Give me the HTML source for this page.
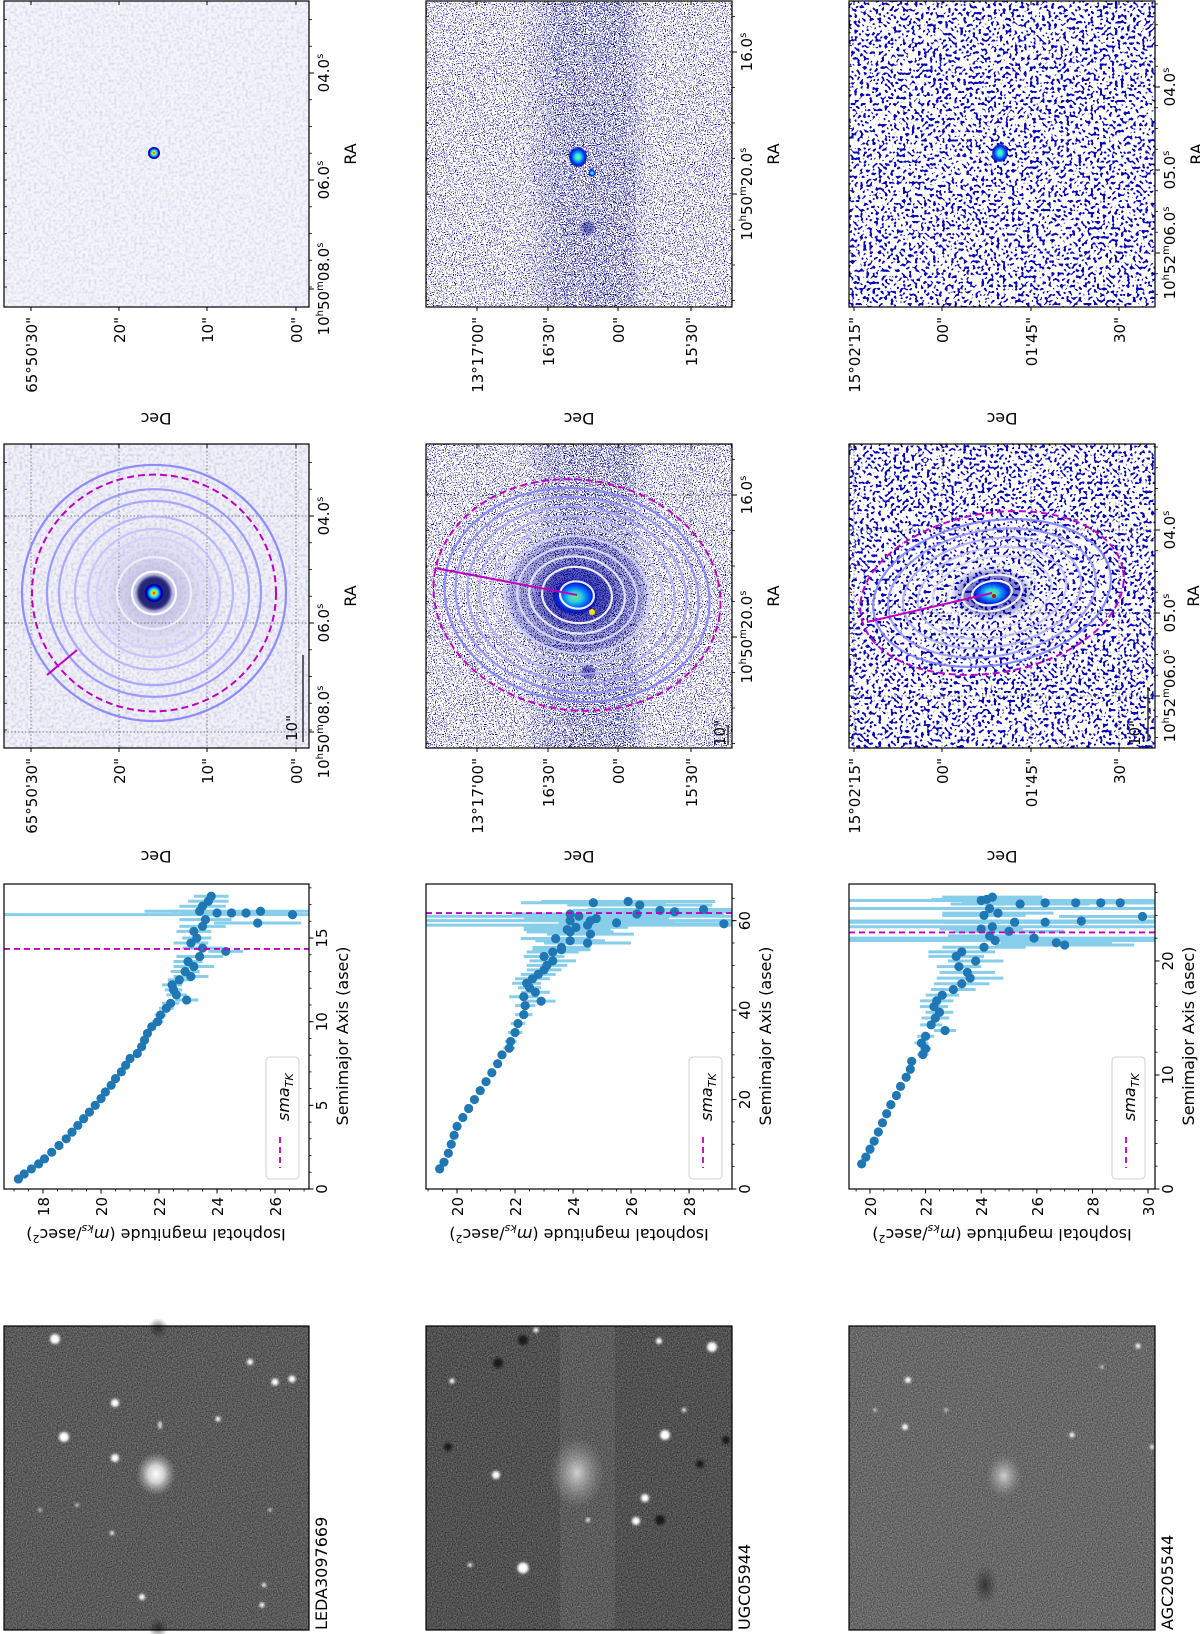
<!DOCTYPE html>
<html><head><meta charset="utf-8"><title>Isophote fitting figure</title>
<style>
html,body{margin:0;padding:0;background:#fff;}
svg{display:block;font-family:"DejaVu Sans","Liberation Sans",sans-serif;}
.tk{font-size:15px;fill:#000;}
.lb{font-size:16px;fill:#000;}
</style></head>
<body>
<svg id="fig" width="1200" height="1634" viewBox="0 0 1200 1634">
<defs>
 <filter id="fLav" x="0" y="0" width="1" height="1" color-interpolation-filters="sRGB">
  <feTurbulence type="fractalNoise" baseFrequency="0.35" numOctaves="1" seed="4"/>
  <feColorMatrix type="matrix" values="0 0 0 0 0.55  0 0 0 0 0.55  0 0 0 0 0.8  -2 0 0 0 1.15"/>
 </filter>
 <filter id="fFine" x="0" y="0" width="1" height="1" color-interpolation-filters="sRGB">
  <feTurbulence type="fractalNoise" baseFrequency="0.9" numOctaves="1" seed="2"/>
  <feColorMatrix type="matrix" values="0 0 0 0 0.02  0 0 0 0 0.02  0 0 0 0 0.55  -25 0 0 0 10.4"/>
 </filter>
 <filter id="fFineD" x="0" y="0" width="1" height="1" color-interpolation-filters="sRGB">
  <feTurbulence type="fractalNoise" baseFrequency="0.9" numOctaves="1" seed="7"/>
  <feColorMatrix type="matrix" values="0 0 0 0 0.02  0 0 0 0 0.02  0 0 0 0 0.5  -25 0 0 0 10.5"/>
 </filter>
 <filter id="fCoarse" x="0" y="0" width="1" height="1" color-interpolation-filters="sRGB">
  <feTurbulence type="fractalNoise" baseFrequency="0.33" numOctaves="1" seed="5"/>
  <feColorMatrix type="matrix" values="0 0 0 0 0.03  0 0 0 0 0.03  0 0 0 0 0.72  -25 0 0 0 11.0"/>
 </filter>
 <filter id="fGray" x="0" y="0" width="1" height="1" color-interpolation-filters="sRGB">
  <feTurbulence type="fractalNoise" baseFrequency="0.8" numOctaves="1" seed="9"/>
  <feColorMatrix type="matrix" values="1 0 0 0 -0.1  1 0 0 0 -0.1  1 0 0 0 -0.1  0 0 0 0 0.5"/>
 </filter>
 <filter id="fBlur" x="-1" y="-1" width="3" height="3"><feGaussianBlur stdDeviation="1.3"/></filter>
 <filter id="fBlur3" x="-1" y="-1" width="3" height="3"><feGaussianBlur stdDeviation="4"/></filter>
 <linearGradient id="gBand" x1="0" x2="1" y1="0" y2="0"><stop offset="0" stop-color="#fff" stop-opacity="0"/><stop offset="0.3" stop-color="#fff" stop-opacity="1"/><stop offset="0.8" stop-color="#fff" stop-opacity="1"/><stop offset="1" stop-color="#fff" stop-opacity="0"/></linearGradient>
 <mask id="mBand1" maskUnits="userSpaceOnUse"><rect x="520" y="0" width="130" height="310" fill="url(#gBand)"/></mask>
 <mask id="mBand2" maskUnits="userSpaceOnUse"><rect x="520" y="440" width="130" height="310" fill="url(#gBand)"/></mask>
 <radialGradient id="gGal"><stop offset="0" stop-color="#fff" stop-opacity="1"/><stop offset="0.4" stop-color="#eee" stop-opacity="0.8"/><stop offset="1" stop-color="#aaa" stop-opacity="0"/></radialGradient>
 <radialGradient id="gGalF"><stop offset="0" stop-color="#ddd" stop-opacity="0.9"/><stop offset="1" stop-color="#999" stop-opacity="0"/></radialGradient>
 <radialGradient id="gDark"><stop offset="0" stop-color="#111" stop-opacity="0.6"/><stop offset="1" stop-color="#222" stop-opacity="0"/></radialGradient>
 <radialGradient id="gLavC"><stop offset="0" stop-color="#9a9ad0" stop-opacity="0.8"/><stop offset="1" stop-color="#c8c8e8" stop-opacity="0"/></radialGradient>
 <radialGradient id="gJet"><stop offset="0" stop-color="#e00000"/><stop offset="0.2" stop-color="#ffd000"/><stop offset="0.4" stop-color="#40ffb0"/><stop offset="0.6" stop-color="#0090ff"/><stop offset="0.8" stop-color="#0000e0"/><stop offset="1" stop-color="#000080"/></radialGradient>
 <radialGradient id="gJet2"><stop offset="0" stop-color="#70ff80"/><stop offset="0.3" stop-color="#30e0e0"/><stop offset="0.55" stop-color="#0080ff"/><stop offset="0.8" stop-color="#0020e0"/><stop offset="1" stop-color="#000090" stop-opacity="0.6"/></radialGradient>
 <radialGradient id="gBlueHalo"><stop offset="0" stop-color="#0010c0" stop-opacity="0.75"/><stop offset="0.7" stop-color="#000090" stop-opacity="0.45"/><stop offset="1" stop-color="#000090" stop-opacity="0"/></radialGradient>
 <clipPath id="cP1"><rect x="4" y="884" width="305" height="305"/></clipPath>
 <clipPath id="cP2"><rect x="426" y="884" width="306" height="305"/></clipPath>
 <clipPath id="cP3"><rect x="849" y="884" width="306" height="305"/></clipPath>
 <clipPath id="cI1"><rect x="4" y="444" width="305" height="304"/></clipPath>
 <clipPath id="cI2"><rect x="426" y="444" width="306" height="304"/></clipPath>
 <clipPath id="cI3"><rect x="849" y="444" width="306" height="304"/></clipPath>
</defs>

<!-- ================= MODEL PANELS (top) ================= -->
<g>
 <rect x="4" y="1" width="305" height="306" fill="#f4f4fa"/>
 <rect x="4" y="1" width="305" height="306" fill="#000" filter="url(#fLav)" opacity="0.35"/>
 <circle cx="154" cy="153" r="6" fill="url(#gJet)"/>
 <rect x="4" y="1" width="305" height="306" fill="none" stroke="#000" stroke-width="1.2"/>
</g>
<g>
 <rect x="426" y="1" width="306" height="306" fill="#fff"/>
 <rect x="426" y="1" width="306" height="306" fill="#000" filter="url(#fFine)"/>
 <g mask="url(#mBand1)"><rect x="520" y="1" width="130" height="306" fill="#000" filter="url(#fFineD)"/></g>
 <rect x="590" y="150" width="45" height="157" fill="#000" filter="url(#fFineD)" opacity="0.6"/>
 <ellipse cx="578" cy="157" rx="9" ry="10" fill="url(#gJet2)"/>
 <circle cx="592" cy="173" r="3.5" fill="url(#gJet2)"/>
 <circle cx="588" cy="228" r="7" fill="#000080" opacity="0.45" filter="url(#fBlur)"/>
 <rect x="426" y="1" width="306" height="306" fill="none" stroke="#000" stroke-width="1.2"/>
</g>
<g>
 <rect x="849" y="1" width="306" height="306" fill="#fff"/>
 <rect x="849" y="1" width="306" height="306" fill="#000" filter="url(#fCoarse)"/>
 <ellipse cx="1000" cy="153" rx="8" ry="9" fill="url(#gJet2)"/>
 <rect x="849" y="1" width="306" height="306" fill="none" stroke="#000" stroke-width="1.2"/>
</g>

<!-- ================= ISOPHOTE PANELS ================= -->
<g>
 <rect x="4" y="444" width="305" height="304" fill="#f1f1f8"/>
 <g clip-path="url(#cI1)">
  <rect x="4" y="444" width="305" height="304" fill="#000" filter="url(#fLav)" opacity="0.45"/>
  <circle cx="154" cy="593" r="75" fill="url(#gLavC)"/>
  <g id="iso1-grid"></g>
  <circle cx="154" cy="593" r="17" fill="#000060" opacity="0.8" filter="url(#fBlur)"/>
  <circle cx="154" cy="593" r="9" fill="url(#gJet)"/>
  <g id="iso1"></g>
 </g>
 <line x1="303" y1="655" x2="303" y2="742" stroke="#333" stroke-width="1.5"/>
 <text class="tk" transform="translate(297,741) rotate(-90)">10"</text>
 <rect x="4" y="444" width="305" height="304" fill="none" stroke="#000" stroke-width="1.2"/>
</g>
<g>
 <rect x="426" y="444" width="306" height="304" fill="#fff"/>
 <g clip-path="url(#cI2)">
  <rect x="426" y="444" width="306" height="304" fill="#000" filter="url(#fFine)"/>
  <g mask="url(#mBand2)"><rect x="520" y="444" width="130" height="304" fill="#000" filter="url(#fFineD)"/></g>
  <rect x="590" y="590" width="45" height="158" fill="#000" filter="url(#fFineD)" opacity="0.6"/>
  <g id="iso2-grid"></g>
  <ellipse cx="577" cy="595" rx="70" ry="58" fill="#000090" opacity="0.3" filter="url(#fBlur3)"/>
  <ellipse cx="577" cy="595" rx="46" ry="38" fill="url(#gBlueHalo)"/>
  <ellipse cx="575" cy="597" rx="22" ry="17" fill="url(#gJet2)" opacity="0.9"/>
  <circle cx="592" cy="612" r="3" fill="#ffe000"/>
  <circle cx="588" cy="672" r="7" fill="#000080" opacity="0.5" filter="url(#fBlur)"/>
  <g id="iso2"></g>
 </g>
 <line x1="728" y1="725" x2="728" y2="745" stroke="#333" stroke-width="1.5"/>
 <text class="tk" transform="translate(725,746) rotate(-90)">10"</text>
 <rect x="426" y="444" width="306" height="304" fill="none" stroke="#000" stroke-width="1.2"/>
</g>
<g>
 <rect x="849" y="444" width="306" height="304" fill="#fff"/>
 <g clip-path="url(#cI3)">
  <rect x="849" y="444" width="306" height="304" fill="#000" filter="url(#fCoarse)"/>
  <g id="iso3-grid"></g>
  <ellipse cx="992" cy="593" rx="42" ry="27" fill="url(#gBlueHalo)"/>
  <ellipse cx="992" cy="593" rx="20" ry="13" fill="url(#gJet2)" opacity="0.9"/>
  <circle cx="994" cy="596" r="2" fill="#e00000"/>
  <g id="iso3"></g>
 </g>
 <line x1="1148" y1="687" x2="1148" y2="740" stroke="#333" stroke-width="1.5"/>
 <text class="tk" transform="translate(1140,746) rotate(-90)">10"</text>
 <rect x="849" y="444" width="306" height="304" fill="none" stroke="#000" stroke-width="1.2"/>
</g>

<!-- ================= GRAYSCALE IMAGES ================= -->
<g>
 <rect x="4" y="1326" width="305" height="304" fill="#4e4e4e"/>
 <rect x="4" y="1326" width="305" height="304" fill="#000" filter="url(#fGray)"/>
 <circle cx="158" cy="1328" r="10" fill="url(#gDark)"/><circle cx="158" cy="1628" r="10" fill="url(#gDark)"/>
 <ellipse cx="156" cy="1474" rx="20" ry="22" fill="url(#gGal)"/>
 <g fill="#fff" filter="url(#fBlur)">
  <circle cx="55" cy="1339" r="5"/><circle cx="115" cy="1403" r="4"/><circle cx="64" cy="1437" r="5"/><circle cx="115" cy="1458" r="4"/>
  <circle cx="250" cy="1362" r="3"/><circle cx="275" cy="1382" r="3.5"/><circle cx="292" cy="1379" r="3.5"/><circle cx="218" cy="1419" r="2.5"/>
  <ellipse cx="160" cy="1425" rx="1.5" ry="4"/><circle cx="142" cy="1597" r="3"/><circle cx="262" cy="1605" r="2.5"/><circle cx="264" cy="1585" r="2"/>
  <circle cx="112" cy="1533" r="2"/><circle cx="40" cy="1510" r="1.5"/><circle cx="77" cy="1505" r="1.5"/><circle cx="270" cy="1510" r="1.5"/>
 </g>
 <rect x="4" y="1326" width="305" height="304" fill="none" stroke="#000" stroke-width="1.2"/>
</g>
<g>
 <rect x="426" y="1326" width="306" height="304" fill="#3c3c3c"/>
 <rect x="560" y="1326" width="55" height="304" fill="#525252"/>
 <rect x="426" y="1326" width="306" height="304" fill="#000" filter="url(#fGray)"/>
 <ellipse cx="577" cy="1473" rx="28" ry="36" fill="url(#gGalF)"/>
 <g fill="#111" opacity="0.8" filter="url(#fBlur)">
  <circle cx="523" cy="1340" r="5"/><circle cx="498" cy="1363" r="5"/><circle cx="448" cy="1447" r="4"/><circle cx="660" cy="1520" r="5"/><circle cx="700" cy="1464" r="4"/><circle cx="726" cy="1440" r="4"/>
 </g>
 <g fill="#fff" filter="url(#fBlur)">
  <circle cx="712" cy="1347" r="5"/><circle cx="665" cy="1435" r="5"/><circle cx="496" cy="1475" r="4"/><circle cx="645" cy="1498" r="4"/>
  <circle cx="636" cy="1521" r="4"/><circle cx="523" cy="1568" r="5.5"/><circle cx="452" cy="1381" r="2.5"/><circle cx="659" cy="1341" r="3"/>
  <circle cx="536" cy="1330" r="2.5"/><circle cx="684" cy="1410" r="2"/><circle cx="470" cy="1565" r="2"/><circle cx="588" cy="1520" r="2"/>
 </g>
 <rect x="426" y="1326" width="306" height="304" fill="none" stroke="#000" stroke-width="1.2"/>
</g>
<g>
 <rect x="849" y="1326" width="306" height="304" fill="#6a6a6a"/>
 <rect x="849" y="1326" width="306" height="304" fill="#000" filter="url(#fGray)"/>
 <ellipse cx="1004" cy="1476" rx="18" ry="22" fill="url(#gGalF)"/>
 <ellipse cx="985" cy="1585" rx="12" ry="20" fill="url(#gDark)"/>
 <g fill="#fff" filter="url(#fBlur)">
  <circle cx="908" cy="1380" r="3"/><circle cx="905" cy="1427" r="3"/><circle cx="1072" cy="1435" r="2.5"/><circle cx="1138" cy="1346" r="2.5"/>
  <circle cx="1152" cy="1447" r="2"/><circle cx="1102" cy="1367" r="1.5"/><circle cx="946" cy="1410" r="1.5"/><circle cx="875" cy="1410" r="1.5"/>
 </g>
 <rect x="849" y="1326" width="306" height="304" fill="none" stroke="#000" stroke-width="1.2"/>
</g>

<!-- ================= PROFILE PLOTS ================= -->
<g id="prof1"></g>
<g id="prof2"></g>
<g id="prof3"></g>

<!-- ================= STATIC LABELS ================= -->
<g class="lb">
 <text class="lb" transform="translate(327,1630) rotate(-90)">LEDA3097669</text>
 <text class="lb" transform="translate(750,1630) rotate(-90)">UGC05944</text>
 <text class="lb" transform="translate(1173,1630) rotate(-90)">AGC205544</text>
 <text class="lb" text-anchor="middle" transform="translate(348,1036) rotate(-90)">Semimajor Axis (asec)</text>
 <text class="lb" text-anchor="middle" transform="translate(771,1036) rotate(-90)">Semimajor Axis (asec)</text>
 <text class="lb" text-anchor="middle" transform="translate(1194,1036) rotate(-90)">Semimajor Axis (asec)</text>
 <text class="lb" text-anchor="middle" transform="translate(156,1229) rotate(180)">Isophotal magnitude (<tspan font-style="italic">m</tspan><tspan font-size="11" font-style="italic" dy="4">ks</tspan><tspan dy="-4">/asec</tspan><tspan font-size="11" dy="-6">2</tspan><tspan dy="6">)</tspan></text>
 <text class="lb" text-anchor="middle" transform="translate(579,1229) rotate(180)">Isophotal magnitude (<tspan font-style="italic">m</tspan><tspan font-size="11" font-style="italic" dy="4">ks</tspan><tspan dy="-4">/asec</tspan><tspan font-size="11" dy="-6">2</tspan><tspan dy="6">)</tspan></text>
 <text class="lb" text-anchor="middle" transform="translate(1002,1229) rotate(180)">Isophotal magnitude (<tspan font-style="italic">m</tspan><tspan font-size="11" font-style="italic" dy="4">ks</tspan><tspan dy="-4">/asec</tspan><tspan font-size="11" dy="-6">2</tspan><tspan dy="6">)</tspan></text>
 <text class="lb" text-anchor="middle" transform="translate(156,413) rotate(180)">Dec</text>
 <text class="lb" text-anchor="middle" transform="translate(579,413) rotate(180)">Dec</text>
 <text class="lb" text-anchor="middle" transform="translate(1002,413) rotate(180)">Dec</text>
 <text class="lb" text-anchor="middle" transform="translate(156,851) rotate(180)">Dec</text>
 <text class="lb" text-anchor="middle" transform="translate(579,851) rotate(180)">Dec</text>
 <text class="lb" text-anchor="middle" transform="translate(1002,851) rotate(180)">Dec</text>
 <text class="lb" text-anchor="middle" transform="translate(356,154) rotate(-90)">RA</text>
 <text class="lb" text-anchor="middle" transform="translate(779,154) rotate(-90)">RA</text>
 <text class="lb" text-anchor="middle" transform="translate(1202,154) rotate(-90)">RA</text>
 <text class="lb" text-anchor="middle" transform="translate(356,596) rotate(-90)">RA</text>
 <text class="lb" text-anchor="middle" transform="translate(779,596) rotate(-90)">RA</text>
 <text class="lb" text-anchor="middle" transform="translate(1199,596) rotate(-90)">RA</text>
</g>

<g id="wcs-axes"></g>

<script>
// ---------------- profile data (semimajor axis [asec], magnitude, error) ----------------
const sma1 = [0.6,0.9,1.2,1.5,1.8,2.2,2.6,3.0,3.4,3.8,4.2,4.6,5.0,5.4,5.8,6.2,6.6,7.0,7.4,7.8,8.1,8.5,8.9,9.3,9.7,10.0,10.4,10.8,11.1,11.3,11.6,11.9,12.2,12.5,12.7,13.0,13.3,13.6,13.9,14.2,14.4,14.7,15.0,15.4,15.7,15.9,16.1,16.4,16.5,16.5,16.5,16.6,16.6,16.9,17.2,17.5];
const mag1 = [17.15,17.35,17.6,17.85,18.05,18.3,18.55,18.8,19.0,19.2,19.4,19.6,19.8,20.0,20.15,20.35,20.5,20.7,20.85,21.0,21.25,21.4,21.5,21.6,21.75,21.95,22.05,22.25,22.4,22.95,22.6,22.5,22.45,22.7,23.1,22.9,23.2,23.0,23.4,24.3,23.5,23.1,23.3,23.2,23.5,25.4,23.6,26.6,24.0,24.5,25.0,23.4,25.5,23.5,23.7,23.8];
const err1 = [0.03,0.03,0.03,0.03,0.03,0.04,0.04,0.04,0.04,0.04,0.05,0.05,0.05,0.05,0.06,0.06,0.07,0.07,0.08,0.08,0.1,0.1,0.12,0.12,0.15,0.2,0.2,0.25,0.3,0.4,0.35,0.3,0.35,0.4,0.6,0.5,0.7,0.5,0.8,0.6,0.7,0.6,0.5,0.6,0.8,1.5,0.9,12,1.2,1.0,1.5,1.0,4,0.8,0.7,0.6];
const smaTK1 = 14.35;

const sma2 = [4.5,6,8,10,12,14,16,18,20,22,24,26,28,30,31.5,33,35,37,39,41,42,44,45,47,49,50,51,52,53,54,55,56,57,58,58.5,59,59.5,60,60.5,61,61.5,62,62.5,59.3,61.5,64,64.3,63.5,62.3,60,57.5,55.5,53.5,48,46,43];
const mag2 = [19.4,19.55,19.7,19.8,19.9,20.0,20.2,20.4,20.6,20.8,21.0,21.2,21.4,21.55,21.8,21.85,22.0,22.1,22.3,22.35,22.9,22.7,22.5,22.6,23.0,23.1,23.3,23.0,23.3,23.6,24.5,23.4,24.6,23.8,24.1,24.5,25.5,23.9,24.8,24.2,26.2,27.5,28.5,29.2,23.9,24.7,25.9,26.3,27.0,24.6,23.9,23.9,23.6,22.8,22.4,22.3];
const err2 = [0.04,0.04,0.04,0.05,0.05,0.05,0.06,0.06,0.07,0.08,0.1,0.1,0.12,0.15,0.2,0.2,0.25,0.25,0.3,0.35,0.5,0.5,0.4,0.6,0.6,0.7,0.8,0.7,0.9,1.0,1.5,1.2,1.5,1.5,1.8,8,2,12,2.5,10,3,3,4,3,2,2.5,3,2.5,3,2,1.5,1.2,1.0,0.6,0.5,0.5];
const smaTK2 = 61.7;

const sma3 = [2.2,2.8,3.5,4.2,5,5.8,6.6,7.4,8.2,9,9.8,10.5,11.2,11.8,12.3,12.8,13.4,13.9,14.4,15,15.5,16,16.5,17,17.5,18,18.5,19,19.5,20,20.4,20.8,21.2,21.6,21.8,22.2,22.6,23,23.4,23.5,23.9,24.2,24.6,25.0,25.1,25.1,25.1,25.4,25.6,25.1,23.4,22.0,21.4,22.8,24.0,25.3];
const mag3 = [19.7,19.85,20.0,20.15,20.3,20.45,20.6,20.75,20.95,21.1,21.3,21.45,21.5,21.9,22.0,21.85,22.0,22.7,22.2,22.35,22.5,22.3,22.4,22.6,23.0,23.3,23.6,23.5,23.2,23.8,23.1,23.3,24.1,26.7,24.5,24.3,25.0,24.4,25.2,27.6,29.8,24.6,24.3,25.4,27.4,28.3,29.0,24.2,24.4,26.3,26.3,25.9,27.0,24.0,24.1,24.0];
const err3 = [0.05,0.05,0.05,0.06,0.06,0.07,0.07,0.08,0.1,0.1,0.12,0.15,0.15,0.2,0.2,0.25,0.3,0.4,0.4,0.5,0.5,0.5,0.6,0.6,0.8,1.0,1.2,1.0,0.8,1.0,1.0,1.2,1.5,2,10,1.5,2,12,2.5,10,3,2,12,2.5,3,2,2,2,1.8,3,10,12,2.5,1.5,1.5,10];
const smaTK3 = 22.5;

const magTicks1 = [18,20,22,24,26];
const magTicks2 = [20,22,24,26,28];
const magTicks3 = [20,22,24,26,28,30];
const smaTicks1 = [0,5,10,15];
const smaTicks2 = [0,20,40,60];
const smaTicks3 = [0,10,20];

const isoR1 = [22,37,47,57,66,79,95,107,132];
const isoR2 = [17,35,48,60,73,86,98,110,122,133];
const isoR3 = [20,30,45,60,75,90,105,120];

const decLabels1 = ['65°50\'30"','20"','10"','00"'];
const decLabels2 = ['13°17\'00"','16\'30"','00"','15\'30"'];
const decLabels3 = ['15°02\'15"','00"','01\'45"','30"'];
const raLabels1 = [['04.0','s'],['06.0','s'],['10','h','50','m','08.0','s']];
const raLabels2 = [['16.0','s'],['10','h','50','m','20.0','s']];
const raLabels3 = [['04.0','s'],['05.0','s'],['10','h','52','m','06.0','s']];

const NS = 'http://www.w3.org/2000/svg';
function mk(tag, parent){ const e = document.createElementNS(NS, tag); parent.appendChild(e); return e; }
function set(e, o){ for (const k in o) e.setAttribute(k, o[k]); return e; }

function drawProfile(gid, clip, cfg, sma, mag, err, smaTK, magTicks, magMinor, smaTicks, smaMinor){
  const g = document.getElementById(gid);
  const X = m => cfg.x0 + (m - cfg.mLo) / (cfg.mHi - cfg.mLo) * (cfg.x1 - cfg.x0);
  const Y = s => cfg.y1 - s / cfg.sMax * (cfg.y1 - cfg.y0);
  const bg = mk('rect', g);
  set(bg, {x:cfg.x0, y:cfg.y0, width:cfg.x1-cfg.x0, height:cfg.y1-cfg.y0, fill:'#fff'});
  const dg = mk('g', g);
  set(dg, {'clip-path':'url(#'+clip+')'});
  
  
  for (let i = 0; i < sma.length; i++){
    const l = mk('line', dg);
    set(l, {x1:X(mag[i]-err[i]), x2:X(mag[i]+err[i]), y1:Y(sma[i]), y2:Y(sma[i]), stroke:'#87ceeb', 'stroke-width':3});
    
    
  }
  for (let i = 0; i < sma.length; i++){
    const c = mk('circle', dg);
    set(c, {cx:X(mag[i]), cy:Y(sma[i]), r:4.6, fill:'#1f77b4'});
    
    
  }
  const tk = mk('line', dg);
  set(tk, {x1:cfg.x0, x2:cfg.x1, y1:Y(smaTK), y2:Y(smaTK), stroke:'#c000c0', 'stroke-width':1.8, 'stroke-dasharray':'6 4'});
  
  
  const fr = mk('rect', g);
  set(fr, {x:cfg.x0, y:cfg.y0, width:cfg.x1-cfg.x0, height:cfg.y1-cfg.y0, fill:'none', stroke:'#000', 'stroke-width':1.2});
  
  
  for (let m = Math.ceil(cfg.mLo / magMinor) * magMinor; m <= cfg.mHi; m += magMinor){
    const t = mk('line', g);
    set(t, {x1:X(m), x2:X(m), y1:cfg.y1, y2:cfg.y1+2.5, stroke:'#000', 'stroke-width':0.8});
    
    
  }
  magTicks.forEach(m => {
    const t = mk('line', g);
    set(t, {x1:X(m), x2:X(m), y1:cfg.y1, y2:cfg.y1+4.5, stroke:'#000', 'stroke-width':1});
    
    
    const tx = mk('text', g);
    set(tx, {'class':'tk', 'text-anchor':'end', transform:'translate('+(X(m)+6)+','+(cfg.y1+8)+') rotate(-90)'});
    tx.textContent = String(m);
    
    
  });
  for (let s = 0; s <= cfg.sMax; s += smaMinor){
    const t = mk('line', g);
    set(t, {x1:cfg.x1, x2:cfg.x1+2.5, y1:Y(s), y2:Y(s), stroke:'#000', 'stroke-width':0.8});
    
    
  }
  smaTicks.forEach(s => {
    const t = mk('line', g);
    set(t, {x1:cfg.x1, x2:cfg.x1+4.5, y1:Y(s), y2:Y(s), stroke:'#000', 'stroke-width':1});
    
    
    const tx = mk('text', g);
    set(tx, {'class':'tk', 'text-anchor':'middle', transform:'translate('+(cfg.x1+18)+','+Y(s)+') rotate(-90)'});
    tx.textContent = String(s);
    
    
  });
  const lg = mk('g', g);
  
  
  const lb = mk('rect', lg);
  set(lb, {x:cfg.x1-43, y:cfg.y1-132, width:33, height:122, rx:4, fill:'#fff', 'fill-opacity':0.85, stroke:'#d0d0d0'});
  const ll = mk('line', lg);
  set(ll, {x1:cfg.x1-29, x2:cfg.x1-29, y1:cfg.y1-52, y2:cfg.y1-21, stroke:'#c000c0', 'stroke-width':1.8, 'stroke-dasharray':'6 4'});
  
  
  const lt = mk('text', lg);
  set(lt, {'font-size':'16', 'font-style':'italic', transform:'translate('+(cfg.x1-20)+','+(cfg.y1-68)+') rotate(-90)'});
  
  
  lt.textContent = 'sma';
  const sub = mk('tspan', lt);
  set(sub, {'font-size':'11', dy:'4'});
  sub.textContent = 'TK';
}

drawProfile('prof1', 'cP1', {x0:4, x1:309, y0:884, y1:1189, sMax:18.23, mLo:16.655, mHi:27.17}, sma1, mag1, err1, smaTK1, magTicks1, 0.5, smaTicks1, 1);
drawProfile('prof2', 'cP2', {x0:426, x1:732, y0:884, y1:1189, sMax:68.2, mLo:18.93, mHi:29.48}, sma2, mag2, err2, smaTK2, magTicks2, 0.5, smaTicks2, 5);
drawProfile('prof3', 'cP3', {x0:849, x1:1155, y0:884, y1:1189, sMax:26.75, mLo:19.245, mHi:30.25}, sma3, mag3, err3, smaTK3, magTicks3, 0.5, smaTicks3, 2);

function drawIso(gid, cx, cy, radii, ratio, rot, dashR, dashRatio, nWhite, magLine){
  const g = document.getElementById(gid);
  const n = radii.length;
  radii.forEach((r, i) => {
    const t = i < nWhite ? 0 : (i - nWhite + 1) / (n - nWhite);
    const cr = Math.round(255 - t * 125), cb = 255;
    const e = mk('ellipse', g);
    set(e, {cx:cx, cy:cy, rx:r, ry:r*ratio, transform:'rotate('+rot+' '+cx+' '+cy+')', fill:'none', stroke:'rgb('+cr+','+cr+','+cb+')', 'stroke-width':2.2, 'stroke-opacity':0.9});
    
    
  });
  const d = mk('ellipse', g);
  set(d, {cx:cx, cy:cy, rx:dashR, ry:dashR*dashRatio, transform:'rotate('+rot+' '+cx+' '+cy+')', fill:'none', stroke:'#c000c0', 'stroke-width':2, 'stroke-dasharray':'7 4'});
  
  
  const l = mk('line', g);
  set(l, {x1:magLine[0], y1:magLine[1], x2:magLine[2], y2:magLine[3], stroke:'#c000c0', 'stroke-width':2});
  
  
}
drawIso('iso1', 154, 593, isoR1, 0.97, 0, 122, 0.97, 1, [47,675,77,650]);
drawIso('iso2', 577, 595, isoR2, 0.8, 8, 144, 0.8, 2, [577,595,435,568]);
drawIso('iso3', 992, 593, isoR3, 0.6, -10, 133, 0.6, 2, [992,593,867,622]);

function raText(parent, parts, x, y){
  const t = mk('text', parent);
  set(t, {'class':'tk', 'text-anchor':'middle', transform:'translate('+x+','+y+') rotate(-90)'});
  
  
  parts.forEach((p, i) => {
    const s = mk('tspan', t);
    if (i % 2 === 1){ set(s, {'font-size':'10', dy:'-6'}); }
    else if (i > 0){ set(s, {dy:'6'}); }
    s.textContent = p;
  });
}
function wcsPanel(x0, x1, y0, y1, decX, decLbl, raY, raLbl, gridId){
  const ax = document.getElementById('wcs-axes');
  const grid = gridId ? document.getElementById(gridId) : null;
  decX.forEach((x, i) => {
    const t = mk('line', ax);
    set(t, {x1:x, x2:x, y1:y1, y2:y1+4, stroke:'#000', 'stroke-width':1});
    
    
    const t2 = mk('line', ax);
    set(t2, {x1:x, x2:x, y1:y0, y2:y0+4, stroke:'#000', 'stroke-width':1});
    
    
    const tx = mk('text', ax);
    set(tx, {'class':'tk', 'text-anchor':'end', transform:'translate('+(x+6)+','+(y1+10)+') rotate(-90)'});
    tx.textContent = decLbl[i];
    
    
    if (grid){
      const gl = mk('line', grid);
      set(gl, {x1:x, x2:x, y1:y0, y2:y1, stroke:'#777', 'stroke-width':0.9, 'stroke-dasharray':'1.5 2'});
      
      
    }
  });
  const step = raY.length > 1 ? (raY[1] - raY[0]) : 100;
  for (let y = raY[0] - Math.floor((raY[0]-y0) / (step/4)) * (step/4); y < y1; y += step/4){
    const m1 = mk('line', ax);
    set(m1, {x1:x1, x2:x1+3, y1:y, y2:y, stroke:'#000', 'stroke-width':0.8});
    
    
    const m2 = mk('line', ax);
    set(m2, {x1:x0, x2:x0+3, y1:y, y2:y, stroke:'#000', 'stroke-width':0.8});
    
    
  }
  raY.forEach((y, i) => {
    const t = mk('line', ax);
    set(t, {x1:x1, x2:x1+5, y1:y, y2:y, stroke:'#000', 'stroke-width':1});
    
    
    raText(ax, raLbl[i], x1+20, y);
    if (grid){
      const gl = mk('line', grid);
      set(gl, {x1:x0, x2:x1, y1:y, y2:y, stroke:'#777', 'stroke-width':0.9, 'stroke-dasharray':'1.5 2'});
      
      
    }
  });
}
const dec1 = [31,119,207,296], dec2 = [477,548,618,691], dec3 = [854,942,1031,1119];
const ra1 = [72,179,288], ra2 = [51,193], ra3 = [86,169,252];
wcsPanel(4, 309, 1, 307, dec1, decLabels1, ra1.map(v => v + 1), raLabels1, null);
wcsPanel(426, 732, 1, 307, dec2, decLabels2, ra2.map(v => v + 1), raLabels2, null);
wcsPanel(849, 1155, 1, 307, dec3, decLabels3, ra3.map(v => v + 1), raLabels3, null);
wcsPanel(4, 309, 444, 748, dec1, decLabels1, ra1.map(v => v + 444), raLabels1, 'iso1-grid');
wcsPanel(426, 732, 444, 748, dec2, decLabels2, ra2.map(v => v + 444), raLabels2, 'iso2-grid');
wcsPanel(849, 1155, 444, 748, dec3, decLabels3, ra3.map(v => v + 444), raLabels3, 'iso3-grid');
</script>
</svg>
</body></html>
